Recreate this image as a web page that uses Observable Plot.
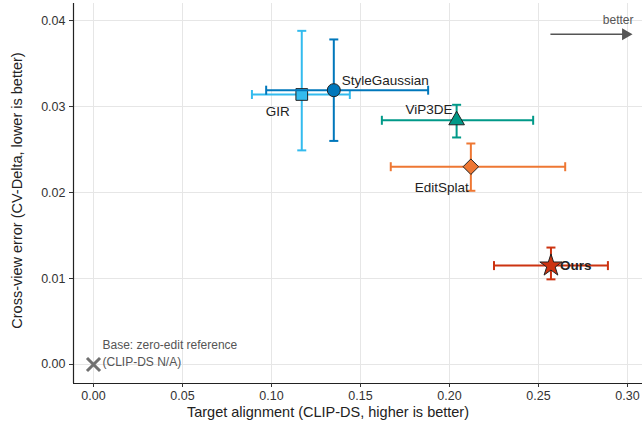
<!DOCTYPE html>
<html>
<head>
<meta charset="utf-8">
<script src="https://cdn.jsdelivr.net/npm/d3@7"></script>
<script src="https://cdn.jsdelivr.net/npm/@observablehq/plot@0.6"></script>
<style>
  html, body { margin: 0; padding: 0; background: #fff; }
</style>
</head>
<body>
<div id="chart"></div>
<script>
// ---- data ----
const methods = ["GIR", "StyleGaussian", "ViP3DE", "EditSplat", "Ours"];
const clipDS   = [0.117, 0.135, 0.204, 0.212, 0.257];
const clipLo   = [0.089, 0.097, 0.162, 0.167, 0.225];
const clipHi   = [0.144, 0.188, 0.247, 0.265, 0.289];
const cvDelta  = [0.0314, 0.0319, 0.0284, 0.0230, 0.0115];
const cvLo     = [0.0249, 0.0260, 0.0264, 0.0202, 0.0099];
const cvHi     = [0.0388, 0.0378, 0.0302, 0.0257, 0.0136];
const baseName = "Base: zero-edit reference\n(CLIP-DS N/A)";
const baseX = [0.0];
const baseY = [0.0];
const xTicks = [0, 0.05, 0.10, 0.15, 0.20, 0.25, 0.30];
const yTicks = [0, 0.01, 0.02, 0.03, 0.04];
const arrowFrom = 0.2567, arrowTo = 0.2989, arrowY = 0.0384;
const betterLabel = "better";
const xTitle = "Target alignment (CLIP-DS, higher is better)";
const yTitle = "Cross-view error (CV-Delta, lower is better)";

// ---- styles ----
const colors  = ["#33bbee", "#0077bb", "#009988", "#ee7733", "#cc3311"];
const symbols = ["square", "circle", "triangle", "diamond2", "star"];
const radii   = [6.6, 6.5, 5.8, 7, 7];
const labelStyle = [
  {dx: -12, dy: 17, anchor: "end", weight: "normal"},
  {dx: 8, dy: -10, anchor: "start", weight: "normal"},
  {dx: -4, dy: -11, anchor: "end", weight: "normal"},
  {dx: -2, dy: 21, anchor: "end", weight: "normal"},
  {dx: 9, dy: 0, anchor: "start", weight: "bold"}
];

const rows = methods.map((m, i) => ({
  m, x: clipDS[i], xl: clipLo[i], xh: clipHi[i],
  y: cvDelta[i], yl: cvLo[i], yh: cvHi[i], i
}));

const capV = {draw(ctx) { ctx.moveTo(0, -4.5); ctx.lineTo(0, 4.5); }};
const capH = {draw(ctx) { ctx.moveTo(-4.5, 0); ctx.lineTo(4.5, 0); }};

const xDomain = [-0.01124, 0.30843];
const yDomain = [-0.00221, 0.04198];

const marks = [
  Plot.gridX(xTicks, {stroke: "#e6e6e6", strokeOpacity: 1}),
  Plot.gridY(yTicks, {stroke: "#e6e6e6", strokeOpacity: 1}),
  Plot.ruleX([xDomain[0]], {stroke: "#222", strokeWidth: 1.2}),
  Plot.ruleY([yDomain[0]], {stroke: "#222", strokeWidth: 1.2}),
  Plot.axisX(xTicks, {tickSize: 4, tickPadding: 4, tickFormat: d3.format(".2f"), label: null, fontSize: 12.5, color: "#333"}),
  Plot.axisY(yTicks, {tickSize: 4, tickPadding: 4, tickFormat: d3.format(".2f"), label: null, fontSize: 12.5, color: "#333"}),
  Plot.text([xTitle], {frameAnchor: "bottom", textAnchor: "middle", lineAnchor: "middle", dy: 29, dx: -30, fontSize: 14.5, fill: "#222", text: d => d}),
  Plot.text([yTitle], {frameAnchor: "left", textAnchor: "middle", lineAnchor: "middle", rotate: -90, dx: -56, dy: -3, fontSize: 14.5, fill: "#222", text: d => d})
];

rows.forEach(r => {
  const c = colors[r.i];
  marks.push(
    Plot.link([r], {x1: "xl", x2: "xh", y1: "y", y2: "y", stroke: c, strokeWidth: 2}),
    Plot.link([r], {x1: "x", x2: "x", y1: "yl", y2: "yh", stroke: c, strokeWidth: 2}),
    Plot.dot([r], {x: "xl", y: "y", symbol: capV, stroke: c, strokeWidth: 2, fill: "none"}),
    Plot.dot([r], {x: "xh", y: "y", symbol: capV, stroke: c, strokeWidth: 2, fill: "none"}),
    Plot.dot([r], {x: "x", y: "yl", symbol: capH, stroke: c, strokeWidth: 2, fill: "none"}),
    Plot.dot([r], {x: "x", y: "yh", symbol: capH, stroke: c, strokeWidth: 2, fill: "none"}),
    Plot.dot([r], {x: "x", y: "y", symbol: symbols[r.i], r: radii[r.i], fill: c, stroke: "#222", strokeWidth: 1})
  );
});

rows.forEach(r => {
  const s = labelStyle[r.i];
  marks.push(Plot.text([r], {x: "x", y: "y", text: "m", dx: s.dx, dy: s.dy, textAnchor: s.anchor,
    fontWeight: s.weight, fontSize: 13.5, fill: "#222"}));
});

const base = baseX.map((x, i) => ({x, y: baseY[i]}));
marks.push(
  Plot.dot(base, {x: "x", y: "y", symbol: "times", r: 6, stroke: "#707070", strokeWidth: 3}),
  Plot.text(base, {x: "x", y: "y", text: () => baseName, dx: 9, dy: -12.5,
    textAnchor: "start", fontSize: 12, lineHeight: 1.4, fill: "#555"}),
  Plot.link([{a: arrowFrom, b: arrowTo, y: arrowY}], {x1: "a", x2: "b", y1: "y", y2: "y", stroke: "#555", strokeWidth: 1.4}),
  Plot.dot([{x: arrowTo, y: arrowY}], {x: "x", y: "y", symbol: "triangle", rotate: 90, r: 4.5, fill: "#555", stroke: "none"}),
  Plot.text([{x: arrowTo, y: arrowY}], {x: "x", y: "y", text: () => betterLabel, dy: -14, dx: 8, textAnchor: "end", fontSize: 12, fill: "#555"})
);

const chart = Plot.plot({
  width: 642,
  height: 432,
  marginLeft: 73,
  marginRight: 0,
  marginTop: 3,
  marginBottom: 49,
  x: {domain: xDomain},
  y: {domain: yDomain},
  style: {fontFamily: "'Liberation Sans', Arial, sans-serif", background: "#fff", overflow: "visible"},
  marks
});
document.getElementById("chart").append(chart);
</script>
</body>
</html>
